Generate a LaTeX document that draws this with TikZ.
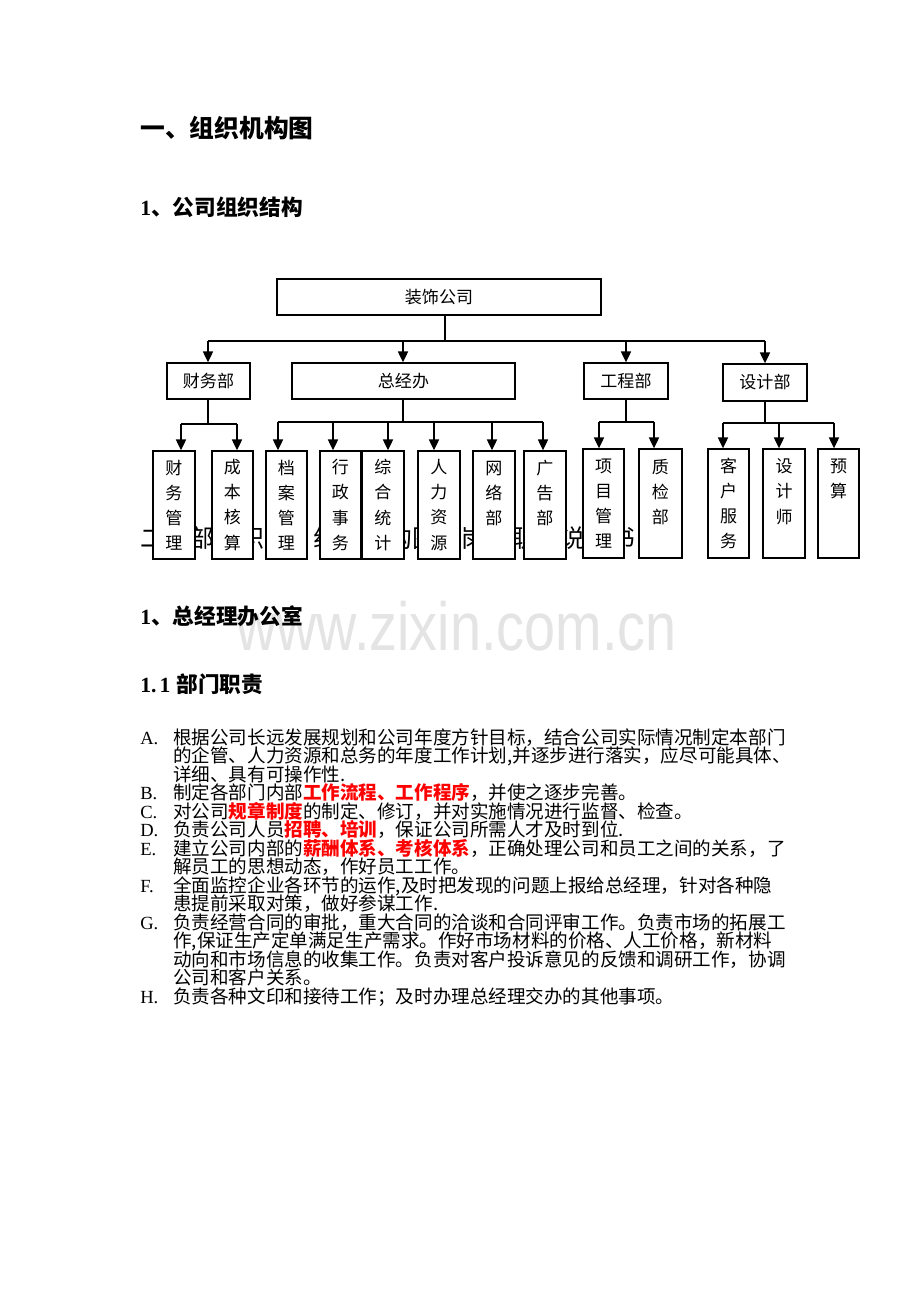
\documentclass[tikz,border=0pt]{standalone}
\usepackage{fontspec}
\setmainfont{Noto Sans CJK SC}
\newfontfamily\lat{Liberation Serif}
\newfontfamily\wmf{Liberation Sans}
\usetikzlibrary{arrows.meta}
\definecolor{wmgray}{RGB}{228,228,228}
\newcommand{\redb}[1]{{\bfseries\color{red}#1}}
\def\u{0.6467pt}
\begin{document}
\begin{tikzpicture}[x=0.6467pt,y=-0.6467pt,
  box/.style={draw=black, fill=white, line width=0.9pt, inner sep=0pt, align=center, font=\fontsize{11}{16.2}\selectfont},
  ln/.style={line width=0.9pt},
  arr/.style={line width=0.9pt, -{Triangle[width=6.5pt,length=7pt]}},
  txt/.style={anchor=base west, inner sep=0pt, font=\fontsize{12}{12}\selectfont},
  lbl/.style={anchor=base west, inner sep=0pt, font=\lat\fontsize{12}{12}\selectfont},
  hd/.style={anchor=base west, inner sep=0pt, font=\bfseries}]

\useasboundingbox[fill=white] (0,0) rectangle (920,1302);

% headings
\node[hd, font=\bfseries\fontsize{16}{16}\selectfont] (h1) at (140,137.5) {一、组织机构图};
\node[hd, font=\bfseries\fontsize{14}{14}\selectfont] (h2) at (140,215) {{\lat\bfseries 1}、公司组织结构};
\node[hd, font=\fontsize{16}{16}\selectfont] (h3) at (140,547) {二、部门职能、组织结构图和岗位职责说明书};

% watermark
\node[anchor=base west, inner sep=0pt, text=wmgray] (wm) at (236,650)
  {\scalebox{0.82}[1]{\wmf\fontsize{44}{44}\selectfont www.zixin.com.cn}};

\node[hd, font=\bfseries\fontsize{14}{14}\selectfont] (h4) at (140,624) {{\lat\bfseries 1}、总经理办公室};
\node[hd, font=\bfseries\fontsize{14}{14}\selectfont] (h5) at (140,692) {{\lat\bfseries 1.\hspace{2pt}1}\hspace{4pt}部门职责};

% org chart: first level
\node[box, minimum width=324*\u, minimum height=36*\u] (zs) at (439,297) {装饰公司};
\node[box, minimum width=83*\u, minimum height=36*\u] (cw) at (208.5,381) {财务部};
\node[box, minimum width=223*\u, minimum height=36*\u] (zj) at (403.5,381) {总经办};
\node[box, minimum width=84*\u, minimum height=36*\u] (gc) at (626,381) {工程部};
\node[box, minimum width=84*\u, minimum height=37*\u] (sj) at (765,382.5) {设计部};

\coordinate (h0) at (445,341);
\coordinate (a1) at (208,341);
\coordinate (a2) at (403,341);
\coordinate (a3) at (626,341);
\coordinate (a4) at (765,341);
\draw[ln] (zs.south -| h0) -- (h0);
\draw[ln] (a1) -- (a4);
\draw[arr] (a1) -- (a1 |- cw.north);
\draw[arr] (a2) -- (a2 |- zj.north);
\draw[arr] (a3) -- (a3 |- gc.north);
\draw[arr] (a4) -- (a4 |- sj.north);

% second level boxes
\node[box, minimum width=42*\u, minimum height=108*\u] (cwgl) at (174,505) {财\\务\\管\\理};
\node[box, minimum width=41*\u, minimum height=108*\u] (cbhs) at (232.5,505) {成\\本\\核\\算};
\node[box, minimum width=41*\u, minimum height=108*\u] (dagl) at (286.5,505) {档\\案\\管\\理};
\node[box, minimum width=41*\u, minimum height=108*\u] (xzsw) at (340.5,505) {行\\政\\事\\务};
\node[box, minimum width=42*\u, minimum height=108*\u] (zhtj) at (383,505) {综\\合\\统\\计};
\node[box, minimum width=42*\u, minimum height=108*\u] (rlzy) at (439,505) {人\\力\\资\\源};
\node[box, minimum width=42*\u, minimum height=108*\u] (wlb) at (494,505) {网\\络\\部\\~};
\node[box, minimum width=42*\u, minimum height=108*\u] (ggb) at (545,505) {广\\告\\部\\~};
\node[box, minimum width=41*\u, minimum height=109*\u] (xmgl) at (603.5,503.5) {项\\目\\管\\理};
\node[box, minimum width=43*\u, minimum height=109*\u] (zjb) at (660.5,503.5) {质\\检\\部\\~};
\node[box, minimum width=41*\u, minimum height=109*\u] (khfw) at (728.5,503.5) {客\\户\\服\\务};
\node[box, minimum width=42*\u, minimum height=109*\u] (sjs) at (784,503.5) {设\\计\\师\\~};
\node[box, minimum width=41*\u, minimum height=109*\u] (ys) at (838.5,503.5) {预\\算\\~\\~};

% finance branch
\coordinate (b0) at (208,424);
\coordinate (b1) at (181,424);
\coordinate (b2) at (237,424);
\draw[ln] (cw.south -| b0) -- (b0);
\draw[ln] (b1) -- (b2);
\draw[arr] (b1) -- (b1 |- cwgl.north);
\draw[arr] (b2) -- (b2 |- cbhs.north);

% general office branch
\coordinate (c0) at (403,422);
\coordinate (c1) at (278,422);
\coordinate (c2) at (333,422);
\coordinate (c3) at (388,422);
\coordinate (c4) at (434,422);
\coordinate (c5) at (492,422);
\coordinate (c6) at (543,422);
\draw[ln] (zj.south -| c0) -- (c0);
\draw[ln] (c1) -- (c6);
\draw[arr] (c1) -- (c1 |- dagl.north);
\draw[arr] (c2) -- (c2 |- xzsw.north);
\draw[arr] (c3) -- (c3 |- zhtj.north);
\draw[arr] (c4) -- (c4 |- rlzy.north);
\draw[arr] (c5) -- (c5 |- wlb.north);
\draw[arr] (c6) -- (c6 |- ggb.north);

% engineering branch
\coordinate (d0) at (626,422);
\coordinate (d1) at (599,422);
\coordinate (d2) at (654,422);
\draw[ln] (gc.south -| d0) -- (d0);
\draw[ln] (d1) -- (d2);
\draw[arr] (d1) -- (d1 |- xmgl.north);
\draw[arr] (d2) -- (d2 |- zjb.north);

% design branch
\coordinate (e0) at (765,423);
\coordinate (e1) at (723,423);
\coordinate (e2) at (779,423);
\coordinate (e3) at (834,423);
\draw[ln] (sj.south -| e0) -- (e0);
\draw[ln] (e1) -- (e3);
\draw[arr] (e1) -- (e1 |- khfw.north);
\draw[arr] (e2) -- (e2 |- sjs.north);
\draw[arr] (e3) -- (e3 |- ys.north);

% body list
\node[lbl] (lA) at (140,744) {A.};
\node[txt] (tA1) at (173,744) {根据公司长远发展规划和公司年度方针目标，结合公司实际情况制定本部门};
\node[txt] (tA2) at (173,762.5) {的企管、人力资源和总务的年度工作计划,并逐步进行落实，应尽可能具体、};
\node[txt] (tA3) at (173,781) {详细、具有可操作性.};
\node[lbl] (lB) at (140,799.5) {B.};
\node[txt] (tB) at (173,799.5) {制定各部门内部\redb{工作流程、工作程序}，并使之逐步完善。};
\node[lbl] (lC) at (140,818) {C.};
\node[txt] (tC) at (173,818) {对公司\redb{规章制度}的制定、修订，并对实施情况进行监督、检查。};
\node[lbl] (lD) at (140,836.5) {D.};
\node[txt] (tD) at (173,836.5) {负责公司人员\redb{招聘、培训}，保证公司所需人才及时到位.};
\node[lbl] (lE) at (140,855) {E.};
\node[txt] (tE1) at (173,855) {建立公司内部的\redb{薪酬体系、考核体系}，正确处理公司和员工之间的关系，了};
\node[txt] (tE2) at (173,873.5) {解员工的思想动态，作好员工工作。};
\node[lbl] (lF) at (140,892) {F.};
\node[txt] (tF1) at (173,892) {全面监控企业各环节的运作,及时把发现的问题上报给总经理，针对各种隐};
\node[txt] (tF2) at (173,910.5) {患提前采取对策，做好参谋工作.};
\node[lbl] (lG) at (140,929) {G.};
\node[txt] (tG1) at (173,929) {负责经营合同的审批，重大合同的洽谈和合同评审工作。负责市场的拓展工};
\node[txt] (tG2) at (173,947.5) {作,保证生产定单满足生产需求。作好市场材料的价格、人工价格，新材料};
\node[txt] (tG3) at (173,966) {动向和市场信息的收集工作。负责对客户投诉意见的反馈和调研工作，协调};
\node[txt] (tG4) at (173,984.5) {公司和客户关系。};
\node[lbl] (lH) at (140,1003) {H.};
\node[txt] (tH) at (173,1003) {负责各种文印和接待工作；及时办理总经理交办的其他事项。};
\end{tikzpicture}
\end{document}
